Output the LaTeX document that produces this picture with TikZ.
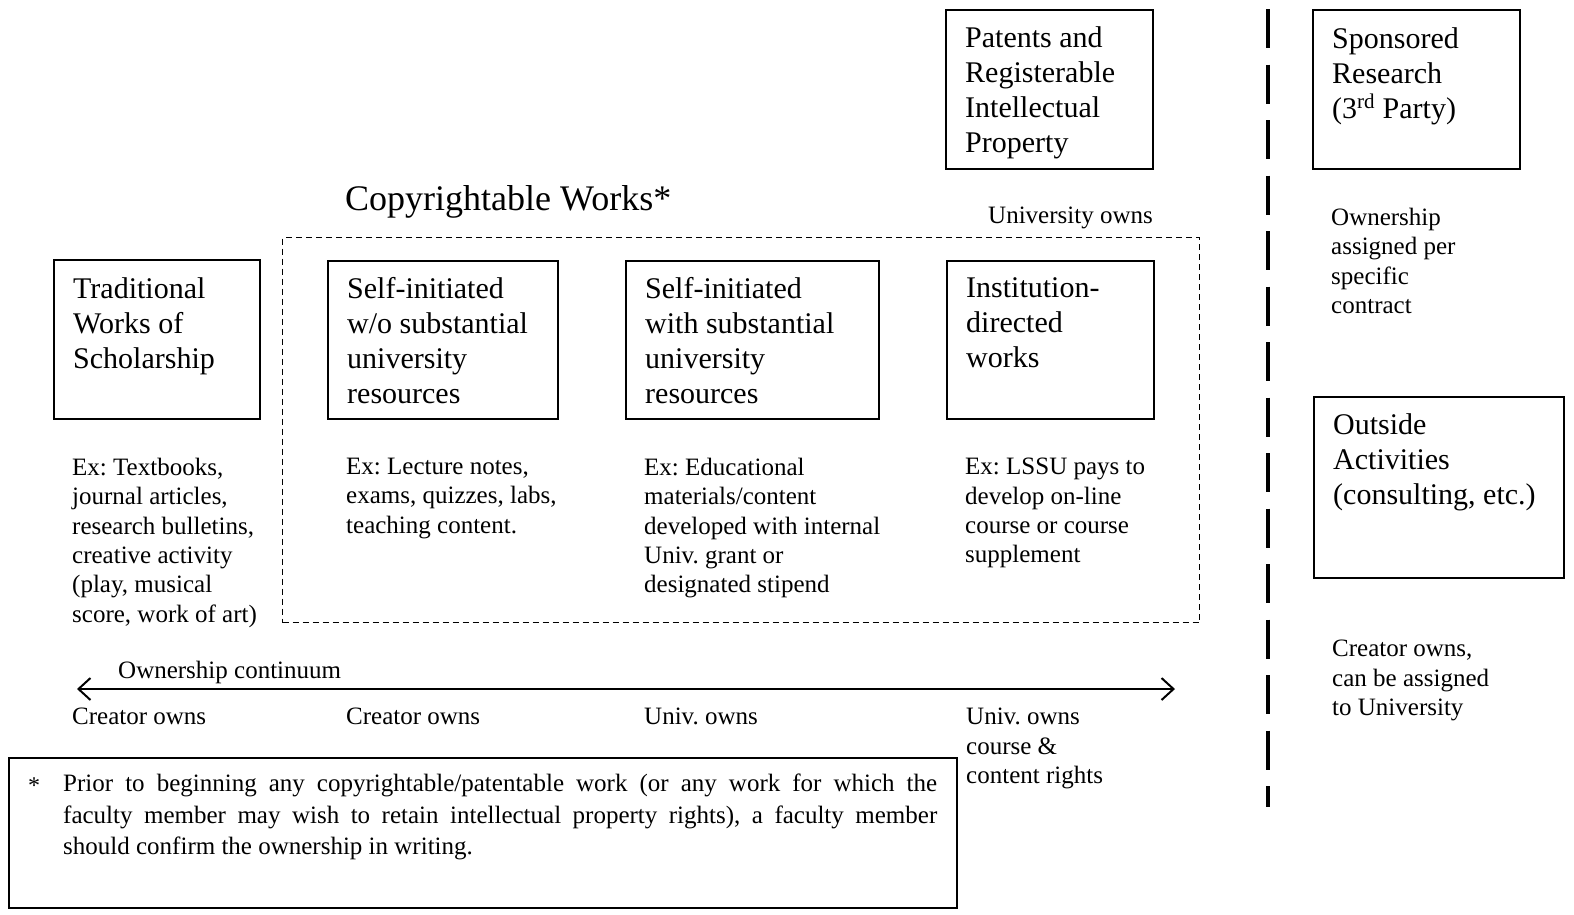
\documentclass[tikz,border=0pt]{standalone}
\usepackage{fontspec}
\setmainfont{Liberation Serif}
\usetikzlibrary{arrows.meta}
\begin{document}
\frenchspacing
\begin{tikzpicture}[x=1pt,y=-1pt,
  box/.style={draw, line width=1.5pt, anchor=north west, inner sep=0pt, minimum width=#1},
  bigtxt/.style={anchor=north west, inner sep=0pt, align=left, font=\fontsize{30}{35}\selectfont},
  smalltxt/.style={anchor=north west, inner sep=0pt, align=left, font=\fontsize{25}{29.3}\selectfont},
  >={Straight Barb[length=12pt,width=22pt]}]
\useasboundingbox (0,0) rectangle (1574,914);
% boxes
\node[box=206, minimum height=159] (trad) at (53,259) {};
\node[box=230, minimum height=158] (selfwo) at (327,260) {};
\node[box=253, minimum height=158] (selfwith) at (625,260) {};
\node[box=207, minimum height=158] (inst) at (946,260) {};
\node[box=207, minimum height=159] (pat) at (945,9) {};
\node[box=207, minimum height=159] (spon) at (1312,9) {};
\node[box=250, minimum height=181] (outs) at (1313,396) {};
\node[box=948, minimum height=150] (foot) at (8,757) {};
% dashed region
\node[draw, line width=1.2pt, dash pattern=on 6pt off 4pt, anchor=north west, inner sep=0pt,
      minimum width=917, minimum height=385] (copyr) at (282,237) {};
% vertical separator
\coordinate (vtop) at (1268,9);
\coordinate (vbot) at (1268,807);
\draw[line width=3.5pt, dash pattern=on 39pt off 16.5pt] (vtop) -- (vbot);
% box texts
\node[bigtxt] (tradT) at (73,277) {Traditional\\Works of\\Scholarship};
\node[bigtxt] (selfwoT) at (347,277) {Self-initiated\\w/o substantial\\university\\resources};
\node[bigtxt] (selfwithT) at (645,277) {Self-initiated\\with substantial\\university\\resources};
\node[bigtxt] (instT) at (966,277) {Institution-\\directed\\works};
\node[bigtxt] (patT) at (965,26) {Patents and\\Registerable\\Intellectual\\Property};
\node[bigtxt] (sponT) at (1332,27) {Sponsored\\Research\\(3\textsuperscript{rd} Party)};
\node[bigtxt] (outsT) at (1333,413) {Outside\\Activities\\(consulting, etc.)};
% title
\node[anchor=north west, inner sep=0pt, font=\fontsize{36}{42}\selectfont] (title) at (345,185) {Copyrightable Works*};
\node[smalltxt] (univown) at (988,207) {University owns};
% examples
\node[smalltxt] (ex1) at (72,458) {Ex: Textbooks,\\journal articles,\\research bulletins,\\creative activity\\(play, musical\\score, work of art)};
\node[smalltxt] (ex2) at (346,458) {Ex: Lecture notes,\\exams, quizzes, labs,\\teaching content.};
\node[smalltxt] (ex3) at (644,458) {Ex: Educational\\materials/content\\developed with internal\\Univ. grant or\\designated stipend};
\node[smalltxt] (ex4) at (965,458) {Ex: LSSU pays to\\develop on-line\\course or course\\supplement};
\node[smalltxt] (sponO) at (1331,208) {Ownership\\assigned per\\specific\\contract};
\node[smalltxt] (outsO) at (1332,640) {Creator owns,\\can be assigned\\to University};
% continuum
\coordinate (aL) at (77,689);
\coordinate (aR) at (1175,689);
\draw[line width=2pt, <->] (aL) -- (aR);
\node[smalltxt] (cont) at (118,661) {Ownership continuum};
\node[smalltxt] (o1) at (72,708) {Creator owns};
\node[smalltxt] (o2) at (346,708) {Creator owns};
\node[smalltxt] (o3) at (644,708) {Univ. owns};
\node[smalltxt] (o4) at (966,708) {Univ. owns\\course \&\\content rights};
% footnote
\node[anchor=north west, inner sep=0pt, font=\fontsize{24}{31.5}\selectfont] (star) at (28,778) {*};
\node[anchor=north west, inner sep=0pt, text width=874pt, align=justify,
      font=\fontsize{25}{31.5}\selectfont] (footT) at (63,774)
  {\tolerance=9999 Prior to beginning any copyrightable/patentable work (or any work for which the\linebreak
   faculty member may wish to retain intellectual property rights), a faculty member\linebreak
   should confirm the ownership in writing.};
\end{tikzpicture}
\end{document}
